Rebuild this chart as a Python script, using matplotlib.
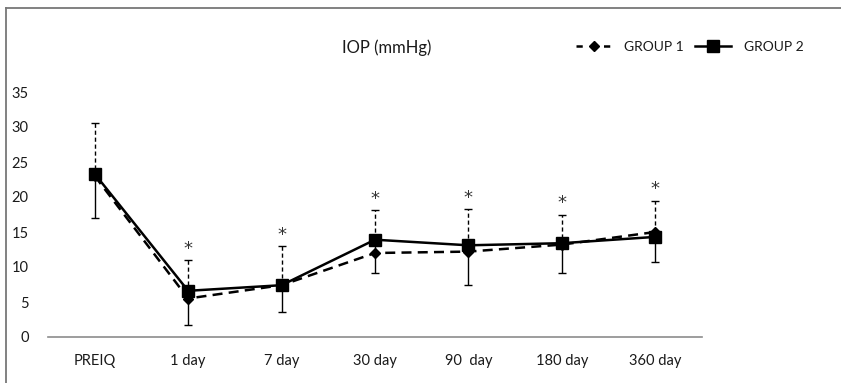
import matplotlib.pyplot as plt
from matplotlib.lines import Line2D

# ----------------------------
# data
# ----------------------------
categories = ["PREIQ", "1 day", "7 day", "30 day", "90  day", "180 day", "360 day"]
group1 = [23.0, 5.5, 7.4, 12.0, 12.2, 13.2, 15.0]
group1_upper = [30.6, 11.0, 13.0, 18.1, 18.3, 17.5, 19.5]
group2 = [23.3, 6.6, 7.4, 13.9, 13.1, 13.4, 14.3]
group2_lower = [17.0, 1.7, 3.6, 9.1, 7.4, 9.1, 10.7]
star_at = [False, True, True, True, True, True, True]
yticks = [0, 5, 10, 15, 20, 25, 30, 35]

plt.rcParams['font.family'] = ['Lato', 'DejaVu Sans']

fig = plt.figure(figsize=(8.41, 3.83), dpi=100)
ax = fig.add_axes([48 / 841, 1 - 337 / 383, (702 - 48) / 841, (337 - 92) / 383])

x = list(range(len(categories)))

# error bars: group 1 upward (dashed), group 2 downward (solid)
up_err = [u - m for u, m in zip(group1_upper, group1)]
eb1 = ax.errorbar(x, group1, yerr=[[0] * len(x), up_err], fmt='none',
                  ecolor='black', elinewidth=1.0, capsize=3, capthick=1.0, zorder=2)
eb1[2][0].set_linestyle((0, (3, 2)))
lo_err = [m - l for m, l in zip(group2, group2_lower)]
ax.errorbar(x, group2, yerr=[lo_err, [0] * len(x)], fmt='none',
            ecolor='black', elinewidth=1.0, capsize=3, capthick=1.0, zorder=2)

ax.plot(x, group1, color='black', linestyle=(0, (4, 2.5)), linewidth=1.8,
        marker='D', markersize=5.5, zorder=3)
ax.plot(x, group2, color='black', linestyle='-', linewidth=1.8,
        marker='s', markersize=8, zorder=4)

# significance marks
for xi, u, s in zip(x, group1_upper, star_at):
    if s:
        ax.text(xi, u + 1.6, "*", ha='center', va='center', fontsize=13,
                family='DejaVu Sans', color='#333333')

ax.set_xlim(-0.5, len(categories) - 0.5)
ax.set_ylim(0, 35)
ax.set_yticks(yticks)
ax.set_xticks(x)
ax.set_xticklabels(categories)
ax.tick_params(axis='both', length=0, labelsize=10.5, colors='#1a1a1a')
ax.tick_params(axis='y', pad=14)
ax.tick_params(axis='x', pad=12)
for side in ['top', 'right', 'left']:
    ax.spines[side].set_visible(False)
ax.spines['bottom'].set_color('#8c8c8c')
ax.spines['bottom'].set_linewidth(1.2)

fig.text(387 / 841, 1 - 48 / 383, "IOP (mmHg)", ha='center', va='center',
         fontsize=12, color='#1a1a1a')

h1 = Line2D([], [], color='black', linestyle=(0, (2.5, 3)), linewidth=1.8,
            marker='D', markersize=5.5)
h2 = Line2D([], [], color='black', linestyle='-', linewidth=1.8,
            marker='s', markersize=8)
fig.legend([h1, h2], ['GROUP 1', 'GROUP 2'], loc='center right',
           bbox_to_anchor=(816 / 841, 1 - 47 / 383), ncol=2, frameon=False,
           fontsize=10, handlelength=2.6, columnspacing=0.8, handletextpad=0.9,
           labelcolor='#1a1a1a')

# outer frame: top and left edges only
fig.add_artist(Line2D([6 / 841, 1], [1 - 8 / 383, 1 - 8 / 383], transform=fig.transFigure,
                      color='#777777', linewidth=1.3))
fig.add_artist(Line2D([6 / 841, 6 / 841], [0, 1 - 8 / 383], transform=fig.transFigure,
                      color='#777777', linewidth=1.3))

fig.savefig("out.png", dpi=100)
